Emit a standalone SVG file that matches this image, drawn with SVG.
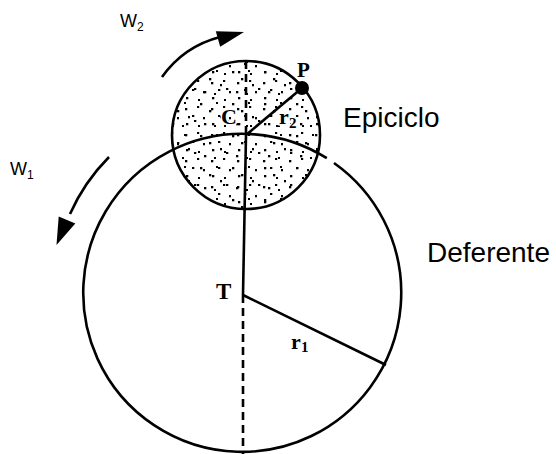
<svg xmlns="http://www.w3.org/2000/svg" width="556" height="454" viewBox="0 0 556 454">
<style>
.ln{fill:none;stroke:#000;stroke-width:2.6}
.dash{fill:none;stroke:#000;stroke-width:2.6;stroke-dasharray:8 5}
.sans{font-family:"Liberation Sans",Arial,sans-serif;fill:#000}
.ser{font-family:"Liberation Serif","Times New Roman",serif;font-weight:bold;fill:#000}
.halo{stroke:#fff;stroke-width:3;paint-order:stroke}
</style>
<defs>
<pattern id="stA" width="26" height="26" patternUnits="userSpaceOnUse">
<g fill="#000">
<rect x="3" y="4" width="2.3" height="2.3"/><rect x="15" y="2" width="2.2" height="2"/>
<rect x="10" y="11" width="2.3" height="2"/><rect x="21" y="13" width="2" height="2.3"/>
<rect x="4" y="19" width="2.3" height="2.3"/><rect x="16" y="21" width="2" height="2"/>
</g>
</pattern>
<pattern id="stB" width="32" height="32" patternUnits="userSpaceOnUse">
<g fill="#000">
<rect x="8" y="7" width="2.3" height="2.3"/><rect x="24" y="6" width="2" height="2"/>
<rect x="17" y="14" width="2.3" height="2.3"/><rect x="2" y="24" width="2.3" height="2"/>
<rect x="28" y="20" width="2" height="2.3"/><rect x="12" y="27" width="2.3" height="2.3"/>
<rect x="22" y="29" width="2" height="2"/>
</g>
</pattern>
</defs>

<g id="epiciclo">
<circle cx="246" cy="135" r="74" fill="#fff"/>
<circle cx="246" cy="135" r="74" fill="url(#stA)"/>
<circle cx="246" cy="135" r="74" fill="url(#stB)"/>
<circle cx="246" cy="135" r="74" class="ln"/>
</g>

<g id="deferente">
<path class="ln" d="M334,163 A159,159 0 1 1 326.8,158.2"/>
</g>

<g id="connectors">
<line class="dash" x1="246" y1="61" x2="246" y2="135"/>
<line class="ln" x1="246" y1="135" x2="243" y2="295"/>
<line class="dash" x1="243" y1="295" x2="243" y2="454"/>
<line class="ln" x1="246" y1="135" x2="302" y2="88"/>
<line class="ln" x1="243" y1="295" x2="386" y2="365"/>
</g>

<g id="P">
<circle cx="302" cy="88" r="7" fill="#000"/>
<text class="ser" x="297" y="77" font-size="21">P</text>
</g>

<g id="w2-arrow">
<path class="ln" stroke-width="3" d="M162,77 A103,103 0 0 1 220,37"/>
<polygon points="244,32 215.8,31.3 220.2,46.7" fill="#000"/>
</g>
<g id="w1-arrow">
<path class="ln" stroke-width="3" d="M109,157 A192,192 0 0 0 70,214"/>
<polygon points="56.5,245 58.7,216.5 75.3,223.5" fill="#000"/>
</g>

<g id="labels">
<text class="sans" x="120" y="27" font-size="18">W</text>
<text class="sans" x="137" y="31" font-size="12">2</text>
<text class="sans" x="10" y="175" font-size="18">W</text>
<text class="sans" x="27" y="179" font-size="12">1</text>
<text class="sans" x="343" y="127" font-size="28">Epiciclo</text>
<text class="sans" x="427" y="262" font-size="28">Deferente</text>
<text class="ser halo" x="221" y="124" font-size="22">C</text>
<text class="ser halo" x="279" y="124" font-size="22">r</text>
<text class="ser halo" x="289" y="128" font-size="15">2</text>
<text class="ser" x="216" y="299" font-size="23">T</text>
<text class="ser" x="291" y="349" font-size="22">r</text>
<text class="ser" x="301" y="352" font-size="15">1</text>
</g>
</svg>
